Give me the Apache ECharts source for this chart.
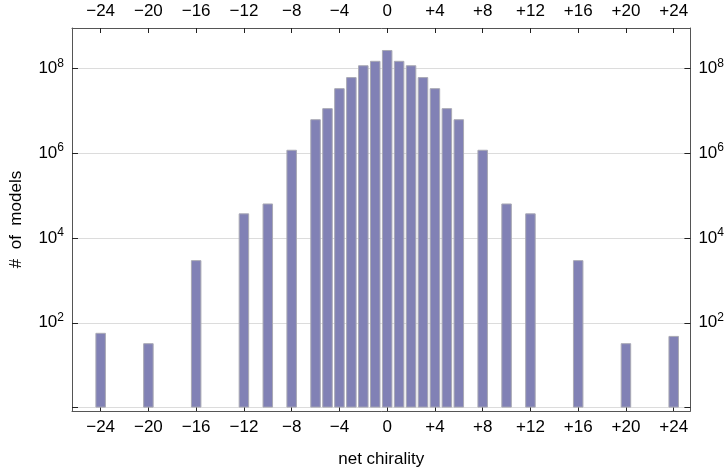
<!DOCTYPE html>
<html>
<head>
<meta charset="utf-8">
<script src="https://cdn.jsdelivr.net/npm/echarts@6/dist/echarts.min.js"></script>
<style>
  html, body { margin: 0; padding: 0; background: #fff; }
  #main { width: 727px; height: 473px; }
</style>
</head>
<body>
<div id="main"></div>
<script>
// net chirality of each bar and the number of models found there
var chirality = [-24, -20, -16, -12, -10, -8, -6, -5, -4, -3, -2, -1, 0,
                 1, 2, 3, 4, 5, 6, 8, 10, 12, 16, 20, 24];
var models = [58, 33, 3000, 38000, 65000, 1.2e6, 6.3e6, 1.15e7, 3.4e7, 6.2e7, 1.18e8, 1.5e8, 2.7e8,
              1.5e8, 1.18e8, 6.2e7, 3.4e7, 1.15e7, 6.3e6, 1.2e6, 65000, 38000, 3000, 33, 49];
var xTicks = [-24, -20, -16, -12, -8, -4, 0, 4, 8, 12, 16, 20, 24];
var yLabelExp = [2, 4, 6, 8];
var yTickExp = [0, 2, 4, 6, 8];

var font = 'Liberation Sans';
var axisCol = '#555';

// bars are drawn on a decade (log10) scale
var barData = chirality.map(function (c, i) { return [c, Math.log10(models[i])]; });

function xFmt(v) {
  if (v === 0) return '0';
  return v > 0 ? '+' + v : '\u2212' + Math.abs(v);
}
function yFmt(v) {
  return '{b|10}{s|' + v + '}';
}
var yRich = {
  b: { fontSize: 17, fontFamily: font, color: '#000' },
  s: { fontSize: 12, fontFamily: font, color: '#000', padding: [0, 0, 10, 0] }
};

function xAxis(pos, withName) {
  return {
    type: 'value', position: pos, min: -26.4, max: 25.4,
    name: withName ? 'net chirality' : '', nameLocation: 'middle', nameGap: 40,
    nameTextStyle: { fontSize: 17, fontFamily: font, color: '#000' },
    axisLine: { show: true, onZero: false, lineStyle: { color: axisCol, width: 1 } },
    axisTick: { show: true, inside: true, length: 5, customValues: xTicks, lineStyle: { color: '#222' } },
    axisLabel: { customValues: xTicks, formatter: xFmt, fontSize: 17, fontFamily: font, color: '#000', margin: 8 },
    splitLine: { show: false }
  };
}
function yAxis(pos, withName) {
  return {
    type: 'value', position: pos, min: -0.08, max: 8.95,
    name: withName ? '#  of  models' : '', nameLocation: 'middle', nameGap: 47,
    nameTextStyle: { fontSize: 17, fontFamily: font, color: '#000' },
    axisLine: { show: true, onZero: false, lineStyle: { color: axisCol, width: 1 } },
    axisTick: { show: true, inside: true, length: 6, customValues: yTickExp, lineStyle: { color: '#222' } },
    axisLabel: { customValues: yLabelExp, formatter: yFmt, rich: yRich, margin: 8 },
    splitLine: { show: withName, lineStyle: { color: '#dcdcdc', width: 1 } }
  };
}

var chart = echarts.init(document.getElementById('main'), null, { renderer: 'canvas' });
chart.setOption({
  animation: false,
  backgroundColor: '#fff',
  grid: { left: 71, right: 34, top: 28, bottom: 62, containLabel: false },
  xAxis: [xAxis('bottom', true), xAxis('top', false)],
  yAxis: [yAxis('left', true), yAxis('right', false)],
  series: [{
    type: 'bar',
    xAxisIndex: 0, yAxisIndex: 0,
    data: barData,
    barWidth: 10.5,
    itemStyle: { color: '#8181b5', borderColor: '#a9a9b4', borderWidth: 1 }
  }]
});
</script>
</body>
</html>
